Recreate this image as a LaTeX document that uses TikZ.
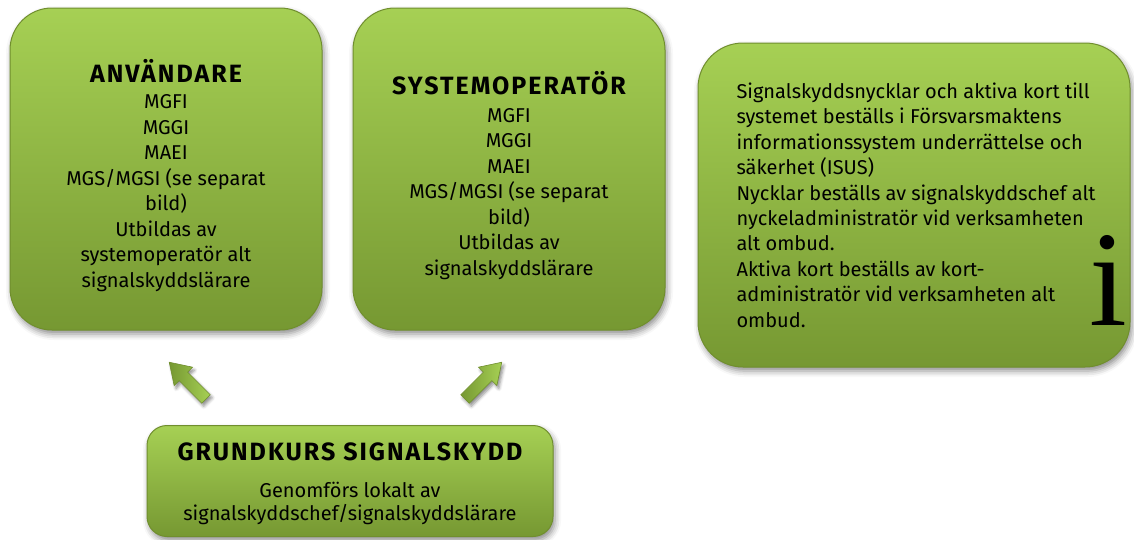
\documentclass[tikz,border=0pt]{standalone}
\usepackage{fontspec}
\setmainfont{Fira Sans}
\newfontfamily\serifi{Liberation Serif}
\usetikzlibrary{shadows.blur}
\definecolor{gtop}{RGB}{166,208,84}
\definecolor{gbot}{RGB}{118,152,50}
\definecolor{gedge}{RGB}{112,142,46}
\tikzset{
  greenbox/.style={draw=gedge, line width=1pt, top color=gtop, bottom color=gbot,
    minimum width=#1, inner sep=0pt,
    blur shadow={shadow xshift=2pt, shadow yshift=-4pt, shadow blur radius=6pt, shadow opacity=45}},
  bodytext/.style={font=\fontsize{20}{25.5}\selectfont, align=center, anchor=base},
  blockarrow/.style={draw=gedge, line width=0.6pt, left color=gbot, right color=gtop,
    blur shadow={shadow xshift=2pt, shadow yshift=-3pt, shadow blur radius=3pt, shadow opacity=45}}
}
\newcommand{\ttl}[1]{{\bfseries\fontsize{25}{28}\selectfont\addfontfeature{LetterSpace=8}#1}}
\begin{document}
\begin{tikzpicture}[x=1pt,y=-1pt]
\useasboundingbox (0,0) rectangle (1134,539);
% boxes
\node[greenbox=312pt, minimum height=322pt, rounded corners=42pt] (b1) at (166,169) {};
\node[greenbox=312pt, minimum height=322pt, rounded corners=42pt] (b2) at (509,169) {};
\node[greenbox=432pt, minimum height=324pt, rounded corners=45pt] (b3) at (914,205) {};
\node[greenbox=406pt, minimum height=111pt, rounded corners=20pt] (b4) at (350,481) {};
% box 1 text
\node[bodytext] (t1) at (166,287) {\ttl{ANVÄNDARE}\\[1pt]MGFI\\MGGI\\MAEI\\MGS/MGSI (se separat\\bild)\\Utbildas av\\systemoperatör alt\\signalskyddslärare};
% box 2 text
\node[bodytext] (t2) at (509,275) {\ttl{SYSTEMOPERATÖR}\\[2pt]MGFI\\MGGI\\MAEI\\MGS/MGSI (se separat\\bild)\\Utbildas av\\signalskyddslärare};
% box 3 text
\node[font=\fontsize{20}{25.4}\selectfont, align=left, anchor=base west] (t3) at (733,327) {Signalskyddsnycklar och aktiva kort till\\systemet beställs i Försvarsmaktens\\informationssystem underrättelse och\\säkerhet (ISUS)\\Nycklar beställs av signalskyddschef alt\\nyckeladministratör vid verksamheten\\alt ombud.\\Aktiva kort beställs av kort-\\administratör vid verksamheten alt\\ombud.};
\node[font=\serifi\fontsize{136}{136}\selectfont, anchor=base, inner sep=0pt] (info) at (1108,325) {i};
% box 4 text
\node[bodytext, font=\fontsize{20}{23}\selectfont] (t4) at (350,520) {\ttl{GRUNDKURS SIGNALSKYDD}\\[14pt]Genomförs lokalt av\\signalskyddschef/signalskyddslärare};
% block arrows
\begin{scope}[shift={(206,399)}, rotate=135]
\path[blockarrow] (0,-6) -- (32,-6) -- (32,-13) -- (52,0) -- (32,13) -- (32,6) -- (0,6) -- cycle;
\end{scope}
\begin{scope}[shift={(465,399)}, rotate=45]
\path[blockarrow] (0,-6) -- (32,-6) -- (32,-13) -- (52,0) -- (32,13) -- (32,6) -- (0,6) -- cycle;
\end{scope}
\end{tikzpicture}
\end{document}
